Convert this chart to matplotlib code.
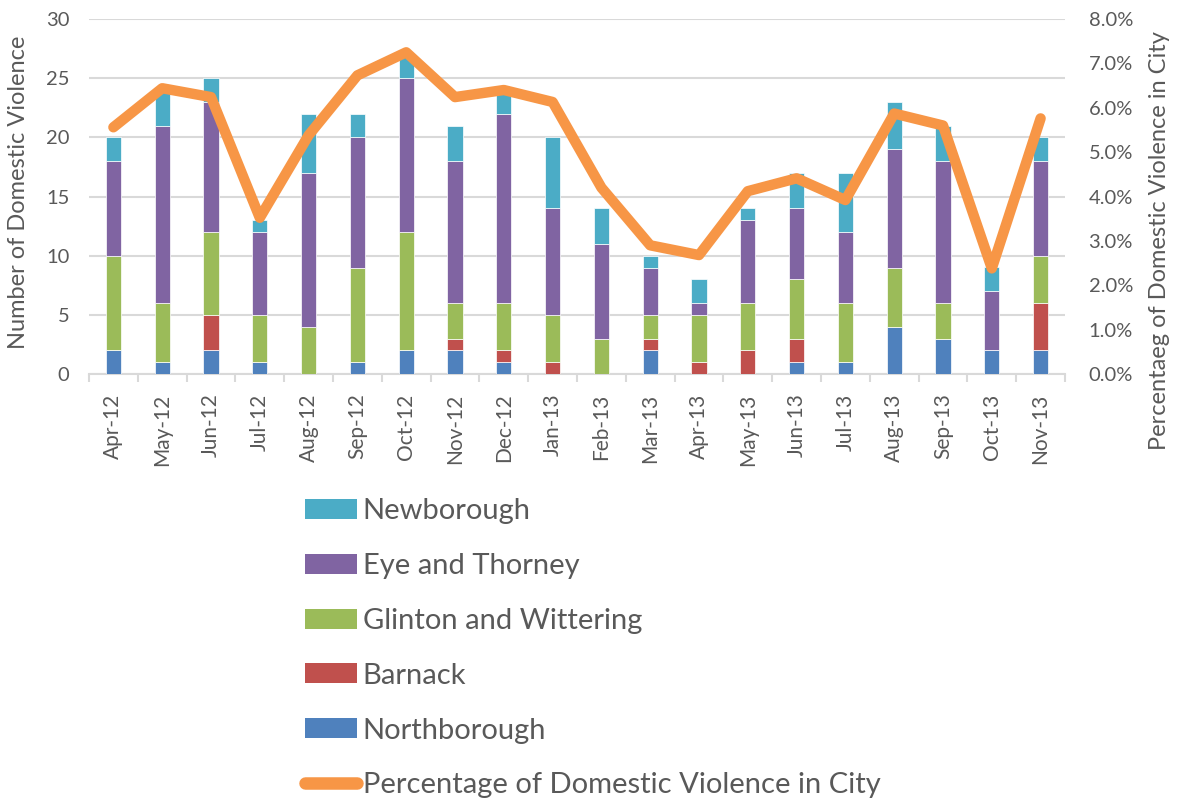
import matplotlib
matplotlib.use("Agg")
import matplotlib.pyplot as plt
from matplotlib.patches import Patch
from matplotlib.lines import Line2D
from matplotlib.ticker import FuncFormatter, FixedLocator
import numpy as np

months = ["Apr-12", "May-12", "Jun-12", "Jul-12", "Aug-12", "Sep-12", "Oct-12",
          "Nov-12", "Dec-12", "Jan-13", "Feb-13", "Mar-13", "Apr-13", "May-13",
          "Jun-13", "Jul-13", "Aug-13", "Sep-13", "Oct-13", "Nov-13"]
northborough = [2, 1, 2, 1, 0, 1, 2, 2, 1, 0, 0, 2, 0, 0, 1, 1, 4, 3, 2, 2]
barnack      = [0, 0, 3, 0, 0, 0, 0, 1, 1, 1, 0, 1, 1, 2, 2, 0, 0, 0, 0, 4]
glinton      = [8, 5, 7, 4, 4, 8, 10, 3, 4, 4, 3, 2, 4, 4, 5, 5, 5, 3, 0, 4]
eye_thorney  = [8, 15, 11, 7, 13, 11, 13, 12, 16, 9, 8, 4, 1, 7, 6, 6, 10, 12, 5, 8]
newborough   = [2, 3, 2, 1, 5, 2, 2, 3, 2, 6, 3, 1, 2, 1, 3, 5, 4, 3, 2, 2]
pct_city     = [5.56, 6.44, 6.24, 3.52, 5.38, 6.73, 7.25, 6.24, 6.40, 6.13,
                4.20, 2.90, 2.68, 4.12, 4.41, 3.92, 5.87, 5.60, 2.38, 5.76]

series = [("Northborough", northborough, "#4F81BD"),
          ("Barnack", barnack, "#C0504D"),
          ("Glinton and Wittering", glinton, "#9BBB59"),
          ("Eye and Thorney", eye_thorney, "#8064A2"),
          ("Newborough", newborough, "#4BACC6")]
line_color = "#F79646"
text_color = "#595959"
font = ["Lato", "DejaVu Sans"]
plt.rcParams["font.family"] = font

fig = plt.figure(figsize=(11.86, 7.98), dpi=100)
ax = fig.add_axes([89/1186, 1 - 374/798, (1065-89)/1186, (374-19)/798])

x = np.arange(len(months))
bottom = np.zeros(len(months))
for name, vals, col in series:
    v = np.array(vals, dtype=float)
    ax.bar(x, v, width=0.31, bottom=bottom, color=col, edgecolor="white",
           linewidth=0.5, zorder=3)
    bottom += v

ax.set_xlim(-0.5, len(months) - 0.5)
ax.set_ylim(0, 30)
ax.set_yticks(range(0, 31, 5))
ax.yaxis.grid(True, color="#D9D9D9", linewidth=1.5, zorder=0)
ax.set_axisbelow(True)
for s in ["top", "right", "left"]:
    ax.spines[s].set_visible(False)
ax.spines["bottom"].set_color("#D9D9D9")
ax.spines["bottom"].set_linewidth(1.5)
ax.set_xticks(x)
ax.set_xticklabels(months, rotation=90, fontsize=15, color=text_color)
ax.tick_params(axis="x", which="major", length=0, pad=14)
ax.xaxis.set_minor_locator(FixedLocator(np.arange(-0.5, len(months), 1.0)))
ax.tick_params(axis="x", which="minor", length=6, width=1.5, color="#D9D9D9")
ax.tick_params(axis="y", length=0, labelsize=14.5, labelcolor=text_color, pad=14)

ax2 = ax.twinx()
ax2.plot(x, np.array(pct_city) / 100, color=line_color, linewidth=7.5,
         solid_capstyle="round", solid_joinstyle="round", zorder=5)
ax2.set_ylim(0, 0.08)
ax2.set_yticks(np.arange(0, 0.081, 0.01))
ax2.yaxis.set_major_formatter(FuncFormatter(lambda v, p: f"{v*100:.1f}%"))
ax2.tick_params(axis="y", length=0, labelsize=14.5, labelcolor=text_color, pad=17)
for s in ["top", "right", "left", "bottom"]:
    ax2.spines[s].set_visible(False)

fig.text(19/1186, 1 - 192/798, "Number of Domestic Violence",
         rotation=90, ha="center", va="center", fontsize=17, color=text_color)
fig.text(1160/1186, 1 - 241/798, "Percentaeg of Domestic Violence in City",
         rotation=90, ha="center", va="center", fontsize=17, color=text_color)

handles = [Patch(facecolor=c, edgecolor="none") for _, _, c in series[::-1]]
labels = [n for n, _, _ in series[::-1]]
handles.append(Line2D([0], [0], color=line_color, linewidth=9, solid_capstyle="round"))
labels.append("Percentage of Domestic Violence in City")
leg = fig.legend(handles, labels, loc="upper left",
                 bbox_to_anchor=(305/1186, 1 - 498/798), frameon=False,
                 fontsize=21, labelcolor=text_color, handlelength=1.78,
                 handleheight=0.68, handletextpad=0.2, labelspacing=0.99,
                 borderpad=0, borderaxespad=0)

fig.savefig("out.png", dpi=100)
